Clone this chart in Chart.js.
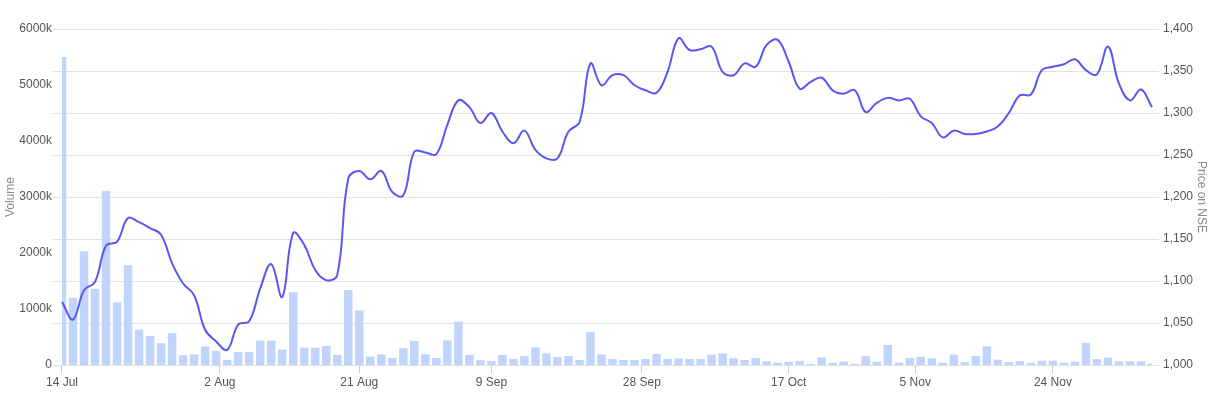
<!DOCTYPE html>
<html>
<head>
<meta charset="utf-8">
<script src="https://cdn.jsdelivr.net/npm/chart.js@4.4.1/dist/chart.umd.min.js"></script>
<style>
    body { margin: 0; background: #fff; }
    .wrap { width: 1216px; height: 399px; position: relative; }
</style>
</head>
<body>
<div class="wrap"><canvas id="chart"></canvas></div>
<script>
// NSE trading days, 14 Jul - 5 Dec 2025
const tradingDays = [
    '2025-07-14', '2025-07-15', '2025-07-16', '2025-07-17', '2025-07-18',
    '2025-07-21', '2025-07-22', '2025-07-23', '2025-07-24', '2025-07-25',
    '2025-07-28', '2025-07-29', '2025-07-30', '2025-07-31', '2025-08-01',
    '2025-08-04', '2025-08-05', '2025-08-06', '2025-08-07', '2025-08-08',
    '2025-08-11', '2025-08-12', '2025-08-13', '2025-08-14', '2025-08-18',
    '2025-08-19', '2025-08-20', '2025-08-21', '2025-08-22', '2025-08-25',
    '2025-08-26', '2025-08-28', '2025-08-29', '2025-09-01', '2025-09-02',
    '2025-09-03', '2025-09-04', '2025-09-05', '2025-09-08', '2025-09-09',
    '2025-09-10', '2025-09-11', '2025-09-12', '2025-09-15', '2025-09-16',
    '2025-09-17', '2025-09-18', '2025-09-19', '2025-09-22', '2025-09-23',
    '2025-09-24', '2025-09-25', '2025-09-26', '2025-09-29', '2025-09-30',
    '2025-10-01', '2025-10-03', '2025-10-06', '2025-10-07', '2025-10-08',
    '2025-10-09', '2025-10-10', '2025-10-13', '2025-10-14', '2025-10-15',
    '2025-10-16', '2025-10-17', '2025-10-20', '2025-10-21', '2025-10-23',
    '2025-10-24', '2025-10-27', '2025-10-28', '2025-10-29', '2025-10-30',
    '2025-10-31', '2025-11-03', '2025-11-04', '2025-11-06', '2025-11-07',
    '2025-11-10', '2025-11-11', '2025-11-12', '2025-11-13', '2025-11-14',
    '2025-11-17', '2025-11-18', '2025-11-19', '2025-11-20', '2025-11-21',
    '2025-11-24', '2025-11-25', '2025-11-26', '2025-11-27', '2025-11-28',
    '2025-12-01', '2025-12-02', '2025-12-03', '2025-12-04', '2025-12-05'
];

const volume = [
    5500000, 1200000, 2030000, 1360000, 3110000, 1120000, 1780000, 630000, 520000, 390000,
    570000, 175000, 190000, 330000, 255000, 92000, 230000, 232000, 435000, 435000,
    275000, 1300000, 310000, 310000, 340000, 180000, 1340000, 975000, 150000, 190000,
    125000, 300000, 430000, 190000, 125000, 440000, 775000, 180000, 85000, 70000,
    179000, 107000, 161000, 315000, 208000, 143000, 161000, 89000, 590000, 188000,
    107000, 89000, 89000, 107000, 196000, 107000, 119000, 107000, 107000, 184000,
    208000, 119000, 89000, 122000, 68000, 42000, 57000, 74000, 18000, 134000,
    39000, 60000, 21000, 158000, 60000, 358000, 42000, 125000, 148000, 119000,
    42000, 184000, 54000, 161000, 333000, 95000, 54000, 71000, 39000, 77000,
    77000, 42000, 60000, 397000, 107000, 131000, 65000, 65000, 65000, 24000
];

const price = [
    1075, 1054, 1089, 1099, 1142, 1147, 1175, 1170, 1163, 1155,
    1121, 1097, 1083, 1042, 1028, 1018, 1048, 1052, 1091, 1120,
    1081, 1157, 1143, 1113, 1101, 1107, 1222, 1231, 1221, 1231,
    1206, 1202, 1254, 1253, 1251, 1286, 1315, 1307, 1288, 1300,
    1278, 1264, 1279, 1256, 1246, 1246, 1278, 1289, 1359, 1333,
    1345, 1345, 1333, 1327, 1324, 1349, 1389, 1375, 1376, 1379,
    1349, 1345, 1359, 1355, 1381, 1387, 1361, 1329, 1337, 1342,
    1327, 1323, 1327, 1301, 1312, 1318, 1315, 1317, 1296, 1288,
    1271, 1279, 1275, 1275, 1278, 1284, 1300, 1321, 1322, 1351,
    1355, 1358, 1364, 1351, 1346, 1379, 1335, 1315, 1328, 1307
];

// x-axis labels, every 19 calendar days
const tickDates = ['2025-07-14', '2025-08-02', '2025-08-21', '2025-09-09',
    '2025-09-28', '2025-10-17', '2025-11-05', '2025-11-24'];
const monthNames = ['Jan', 'Feb', 'Mar', 'Apr', 'May', 'Jun', 'Jul', 'Aug', 'Sep', 'Oct', 'Nov', 'Dec'];

// place a calendar date between the trading days around it
function datePosition(dateStr) {
    const t = Date.parse(dateStr);
    for (let i = 0; i < tradingDays.length - 1; i++) {
        const a = Date.parse(tradingDays[i]);
        const b = Date.parse(tradingDays[i + 1]);
        if (t >= a && t <= b) {
            return i + (t - a) / (b - a);
        }
    }
    return tradingDays.length - 1;
}

function formatDate(dateStr) {
    const d = new Date(dateStr);
    return d.getUTCDate() + ' ' + monthNames[d.getUTCMonth()];
}

const FONT = { family: '"Liberation Sans", Arial, sans-serif', size: 12 };
const TEXT = '#555';

const ctx = document.getElementById('chart').getContext('2d');
new Chart(ctx, {
    type: 'bar',
    data: {
        datasets: [{
            type: 'line',
            label: 'Price on NSE',
            data: price.map((p, i) => ({ x: i, y: p })),
            yAxisID: 'y1',
            borderColor: '#5b57ee',
            borderWidth: 2,
            pointRadius: 0,
            tension: 0.4,
            fill: false,
            order: 1
        }, {
            type: 'bar',
            label: 'Volume',
            data: volume.map((v, i) => ({ x: i, y: v })),
            yAxisID: 'y',
            backgroundColor: '#c0d4fc',
            barPercentage: 0.77,
            categoryPercentage: 1,
            clip: { left: -9, right: -7, top: 0, bottom: 0 },
            order: 2
        }]
    },
    options: {
        responsive: true,
        maintainAspectRatio: false,
        animation: false,
        layout: { padding: { top: 29 } },
        plugins: {
            legend: { display: false },
            tooltip: { enabled: false }
        },
        scales: {
            x: {
                type: 'linear',
                min: -0.8174,
                max: 99.636,
                offset: false,
                grid: {
                    offset: false,
                    drawOnChartArea: false,
                    drawTicks: true,
                    tickLength: 8,
                    color: '#cccccc'
                },
                border: { display: false },
                afterBuildTicks: scale => {
                    scale.ticks = tickDates.map(d => ({ value: datePosition(d) }));
                },
                ticks: {
                    autoSkip: false,
                    maxRotation: 0,
                    padding: 2,
                    color: TEXT,
                    font: FONT,
                    callback: (value, index) => formatDate(tickDates[index])
                },
                afterFit: scale => { scale.height = 34; }
            },
            y: {
                position: 'left',
                min: 0,
                max: 6000000,
                grid: { display: false, drawTicks: false },
                border: { display: false },
                ticks: {
                    stepSize: 1000000,
                    padding: 1,
                    color: TEXT,
                    font: FONT,
                    callback: v => v === 0 ? '0' : (v / 1000) + 'k'
                },
                title: {
                    display: true,
                    text: 'Volume',
                    color: '#8a8a8a',
                    font: FONT,
                    padding: { top: 3, bottom: 3 }
                },
                afterFit: scale => { scale.width = 53; }
            },
            y1: {
                position: 'right',
                min: 1000,
                max: 1400,
                grid: { color: '#e2e2e2', drawTicks: false },
                border: { display: false },
                ticks: {
                    stepSize: 50,
                    padding: 4,
                    color: TEXT,
                    font: FONT,
                    callback: v => v.toLocaleString('en-US')
                },
                title: {
                    display: true,
                    text: 'Price on NSE',
                    color: '#8a8a8a',
                    font: FONT,
                    padding: { top: 7, bottom: 7 }
                },
                afterFit: scale => { scale.width = 57; }
            }
        }
    }
});
</script>
</body>
</html>
